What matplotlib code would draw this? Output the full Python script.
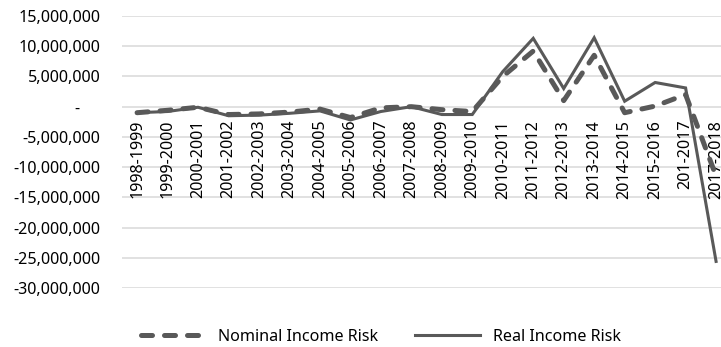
import matplotlib
matplotlib.use("Agg")
import matplotlib.pyplot as plt
from matplotlib.lines import Line2D
from matplotlib.ticker import FuncFormatter

plt.rcParams["font.family"] = ["Noto Sans", "DejaVu Sans"]

periods = [
    "1998-1999", "1999-2000", "2000-2001", "2001-2002", "2002-2003",
    "2003-2004", "2004-2005", "2005-2006", "2006-2007", "2007-2008",
    "2008-2009", "2009-2010", "2010-2011", "2011-2012", "2012-2013",
    "2013-2014", "2014-2015", "2015-2016", "201-2017", "2017-2018",
]
nominal_risk = [
    -1.0e6, -0.6e6, -0.1e6, -1.3e6, -1.2e6, -0.9e6, -0.4e6, -1.8e6, -0.2e6, 0.0,
    -0.5e6, -0.8e6, 5.0e6, 9.2e6, 1.0e6, 8.5e6, -1.0e6, 0.1e6, 2.0e6, -11.5e6,
]
real_risk = [
    -1.0e6, -0.8e6, -0.1e6, -1.5e6, -1.4e6, -1.1e6, -0.7e6, -2.2e6, -0.8e6, 0.0,
    -1.3e6, -1.3e6, 5.8e6, 11.3e6, 3.0e6, 11.4e6, 0.9e6, 4.0e6, 3.1e6, -25.6e6,
]
y_ticks = list(range(-30_000_000, 15_000_001, 5_000_000))

line_color = "#595959"
grid_color = "#d9d9d9"
font_size = 11.6

fig = plt.figure(figsize=(7.21, 3.47), dpi=100)
ax = fig.add_axes([0.169, 0.170, 0.8453, 0.7839])

x = list(range(len(periods)))
ax.plot(x, nominal_risk, color=line_color, linewidth=3.6, dashes=(2.2, 2.4),
        dash_capstyle="round", solid_capstyle="round", zorder=3)
ax.plot(x, real_risk, color=line_color, linewidth=2.2, solid_joinstyle="miter", zorder=3)

ax.set_xlim(-0.5, len(periods) - 0.5)
ax.set_ylim(y_ticks[0], y_ticks[-1])
ax.set_yticks(y_ticks)
ax.yaxis.set_major_formatter(FuncFormatter(lambda v, _: "-     " if v == 0 else f"{v:,.0f}"))
ax.tick_params(axis="y", length=0, pad=15.5, labelsize=font_size, labelcolor="black")
ax.set_xticks([])
ax.grid(axis="y", color=grid_color, linewidth=1.1)
ax.set_axisbelow(True)
for spine in ax.spines.values():
    spine.set_visible(False)

# category labels sit just under the zero line, Excel "next to axis" style
for i, label in enumerate(periods):
    ax.annotate(label, xy=(i, 0), xytext=(0, -9.5), textcoords="offset points",
                rotation=90, ha="center", va="top", fontsize=font_size, zorder=1)

handles = [
    Line2D([], [], color=line_color, linewidth=3.6, dashes=(2.2, 2.4), dash_capstyle="round"),
    Line2D([], [], color=line_color, linewidth=2.2),
]
fig.legend(handles, ["Nominal Income Risk", "Real Income Risk"], loc="center",
           bbox_to_anchor=(0.528, 0.029), ncol=2, frameon=False, fontsize=font_size,
           handlelength=4.0, handletextpad=0.8, columnspacing=2.3)

fig.savefig("out.png", dpi=100)
